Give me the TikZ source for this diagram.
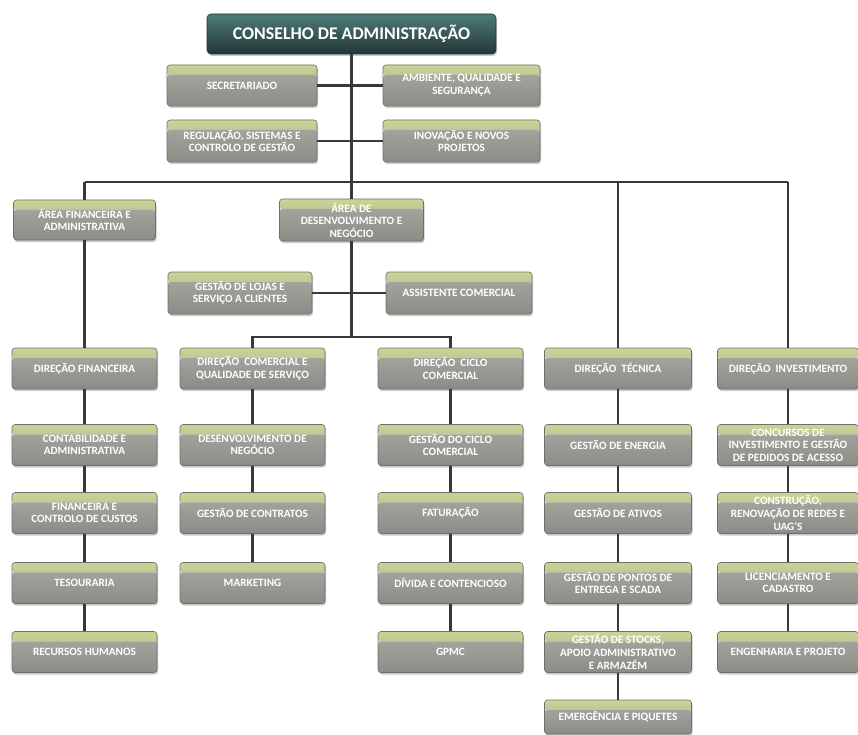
\documentclass[tikz,border=0pt]{standalone}
\usepackage{fontspec}
\setmainfont{Carlito}[BoldFont={Carlito Bold}]
\usetikzlibrary{shadows}
\definecolor{hl}{HTML}{CBD394}
\definecolor{body}{HTML}{A3A39D}
\definecolor{bodydk}{HTML}{8C8C87}
\definecolor{bord}{HTML}{6E6E6A}
\definecolor{conn}{HTML}{383838}
\definecolor{ttop}{HTML}{4C7C78}
\definecolor{tbot}{HTML}{243636}
\tikzset{
  box/.style={rectangle, rounded corners=3pt, draw=bord, line width=0.6pt,
    minimum width=145pt, minimum height=41pt, inner sep=1pt, align=center,
    text=white, font=\fontsize{11.2}{12.6}\selectfont\bfseries,
    drop shadow={shadow xshift=1pt, shadow yshift=-2pt, opacity=0.35, fill=black!60},
    path picture={
      \shade[top color=hl, bottom color=body]
        (path picture bounding box.north west) rectangle
        ([yshift=-10pt]path picture bounding box.north east);
      \shade[top color=body, bottom color=bodydk]
        ([yshift=-10pt]path picture bounding box.north west) rectangle
        (path picture bounding box.south east);
    }},
  titlebox/.style={rectangle, rounded corners=4pt, draw=tbot, line width=0.6pt,
    minimum width=289pt, minimum height=40pt, align=center,
    text=white, font=\fontsize{17.8}{20}\selectfont\bfseries,
    top color=ttop, bottom color=tbot,
    drop shadow={shadow xshift=1pt, shadow yshift=-2pt, opacity=0.35, fill=black!60}},
  conn/.style={draw=conn, line width=2.6pt},
}
\begin{document}
\begin{tikzpicture}[x=1pt,y=-1pt]
\useasboundingbox (0,0) rectangle (858,735);
% top
\node[titlebox] (title) at (351.5,34) {CONSELHO DE ADMINISTRAÇÃO};
\node[box, minimum width=150pt] (sec) at (242,85.5) {SECRETARIADO};
\node[box, minimum width=157pt] (amb) at (461.5,85.5) {AMBIENTE, QUALIDADE E\\SEGURANÇA};
\node[box, minimum width=150pt, minimum height=42pt] (reg) at (242,141) {REGULAÇÃO, SISTEMAS E\\CONTROLO DE GESTÃO};
\node[box, minimum width=157pt, minimum height=42pt] (inov) at (461.5,141) {INOVAÇÃO E NOVOS\\PROJETOS};
% areas
\node[box, minimum width=142pt, minimum height=40pt] (afin) at (84.5,220) {ÁREA FINANCEIRA E\\ADMINISTRATIVA};
\node[box, minimum width=144pt, minimum height=42pt] (ades) at (351.5,220) {ÁREA DE\\DESENVOLVIMENTO E\\NEGÓCIO};
\node[box, minimum width=144pt, minimum height=42pt] (lojas) at (240,293) {GESTÃO DE LOJAS E\\SERVIÇO A CLIENTES};
\node[box, minimum width=146pt, minimum height=42pt] (assist) at (459,293) {ASSISTENTE COMERCIAL};
% column 1
\node[box] (a1) at (84.5,368.5) {DIREÇÃO FINANCEIRA};
\node[box] (a2) at (84.5,445) {CONTABILIDADE E\\ADMINISTRATIVA};
\node[box] (a3) at (84.5,513) {FINANCEIRA E\\CONTROLO DE CUSTOS};
\node[box] (a4) at (84.5,583) {TESOURARIA};
\node[box] (a5) at (84.5,652) {RECURSOS HUMANOS};
% column 2
\node[box] (b1) at (252.5,368.5) {DIREÇÃO\ \ COMERCIAL E\\QUALIDADE DE SERVIÇO};
\node[box] (b2) at (252.5,445) {DESENVOLVIMENTO DE\\NEGÓCIO};
\node[box] (b3) at (252.5,513) {GESTÃO DE CONTRATOS};
\node[box] (b4) at (252.5,583) {MARKETING};
% column 3
\node[box] (c1) at (450.5,368.5) {DIREÇÃO\ \ CICLO\\COMERCIAL};
\node[box] (c2) at (450.5,445) {GESTÃO DO CICLO\\COMERCIAL};
\node[box] (c3) at (450.5,513) {FATURAÇÃO};
\node[box] (c4) at (450.5,583) {DÍVIDA E CONTENCIOSO};
\node[box] (c5) at (450.5,652) {GPMC};
% column 4
\node[box, minimum width=147pt] (d1) at (618,368.5) {DIREÇÃO\ \ TÉCNICA};
\node[box, minimum width=147pt] (d2) at (618,445) {GESTÃO DE ENERGIA};
\node[box, minimum width=147pt] (d3) at (618,513) {GESTÃO DE ATIVOS};
\node[box, minimum width=147pt] (d4) at (618,583) {GESTÃO DE PONTOS DE\\ENTREGA E SCADA};
\node[box, minimum width=147pt] (d5) at (618,652) {GESTÃO DE STOCKS,\\APOIO ADMINISTRATIVO\\E ARMAZÉM};
\node[box, minimum width=147pt, minimum height=34pt] (d6) at (618,717) {EMERGÊNCIA E PIQUETES};
% column 5
\node[box, minimum width=141pt] (e1) at (788,368.5) {DIREÇÃO\ \ INVESTIMENTO};
\node[box, minimum width=141pt] (e2) at (788,445) {CONCURSOS DE\\INVESTIMENTO E GESTÃO\\DE PEDIDOS DE ACESSO};
\node[box, minimum width=141pt] (e3) at (788,513) {CONSTRUÇÃO,\\RENOVAÇÃO DE REDES E\\UAG'S};
\node[box, minimum width=141pt] (e4) at (788,583) {LICENCIAMENTO E\\CADASTRO};
\node[box, minimum width=141pt] (e5) at (788,652) {ENGENHARIA E PROJETO};
% bars
\coordinate (barL) at (84.5,182);
\coordinate (bar2) at (351.5,337);
% connectors
\draw[conn] (title.south) -- (title.south |- barL);
\draw[conn] (sec.east) -- (sec.east -| title.south);
\draw[conn] (amb.west) -- (amb.west -| title.south);
\draw[conn] (reg.east) -- (reg.east -| title.south);
\draw[conn] (inov.west) -- (inov.west -| title.south);
\draw[conn] (barL) -- (barL -| e1.north);
\draw[conn] (afin.north |- barL) -- (afin.north);
\draw[conn] (ades.north |- barL) -- (ades.north);
\draw[conn] (d1.north |- barL) -- (d1.north);
\draw[conn] (e1.north |- barL) -- (e1.north);
\draw[conn] (afin.south) -- (a1.north);
\draw[conn] (ades.south) -- (bar2);
\draw[conn] (lojas.east) -- (assist.west);
\draw[conn] (b1.north) -- (b1.north |- bar2) -- (c1.north |- bar2) -- (c1.north);
\foreach \u/\v in {a1/a2,a2/a3,a3/a4,a4/a5,b1/b2,b2/b3,b3/b4,c1/c2,c2/c3,c3/c4,c4/c5,d1/d2,d2/d3,d3/d4,d4/d5,d5/d6,e1/e2,e2/e3,e3/e4,e4/e5}
  \draw[conn] (\u.south) -- (\v.north);
\end{tikzpicture}
\end{document}
